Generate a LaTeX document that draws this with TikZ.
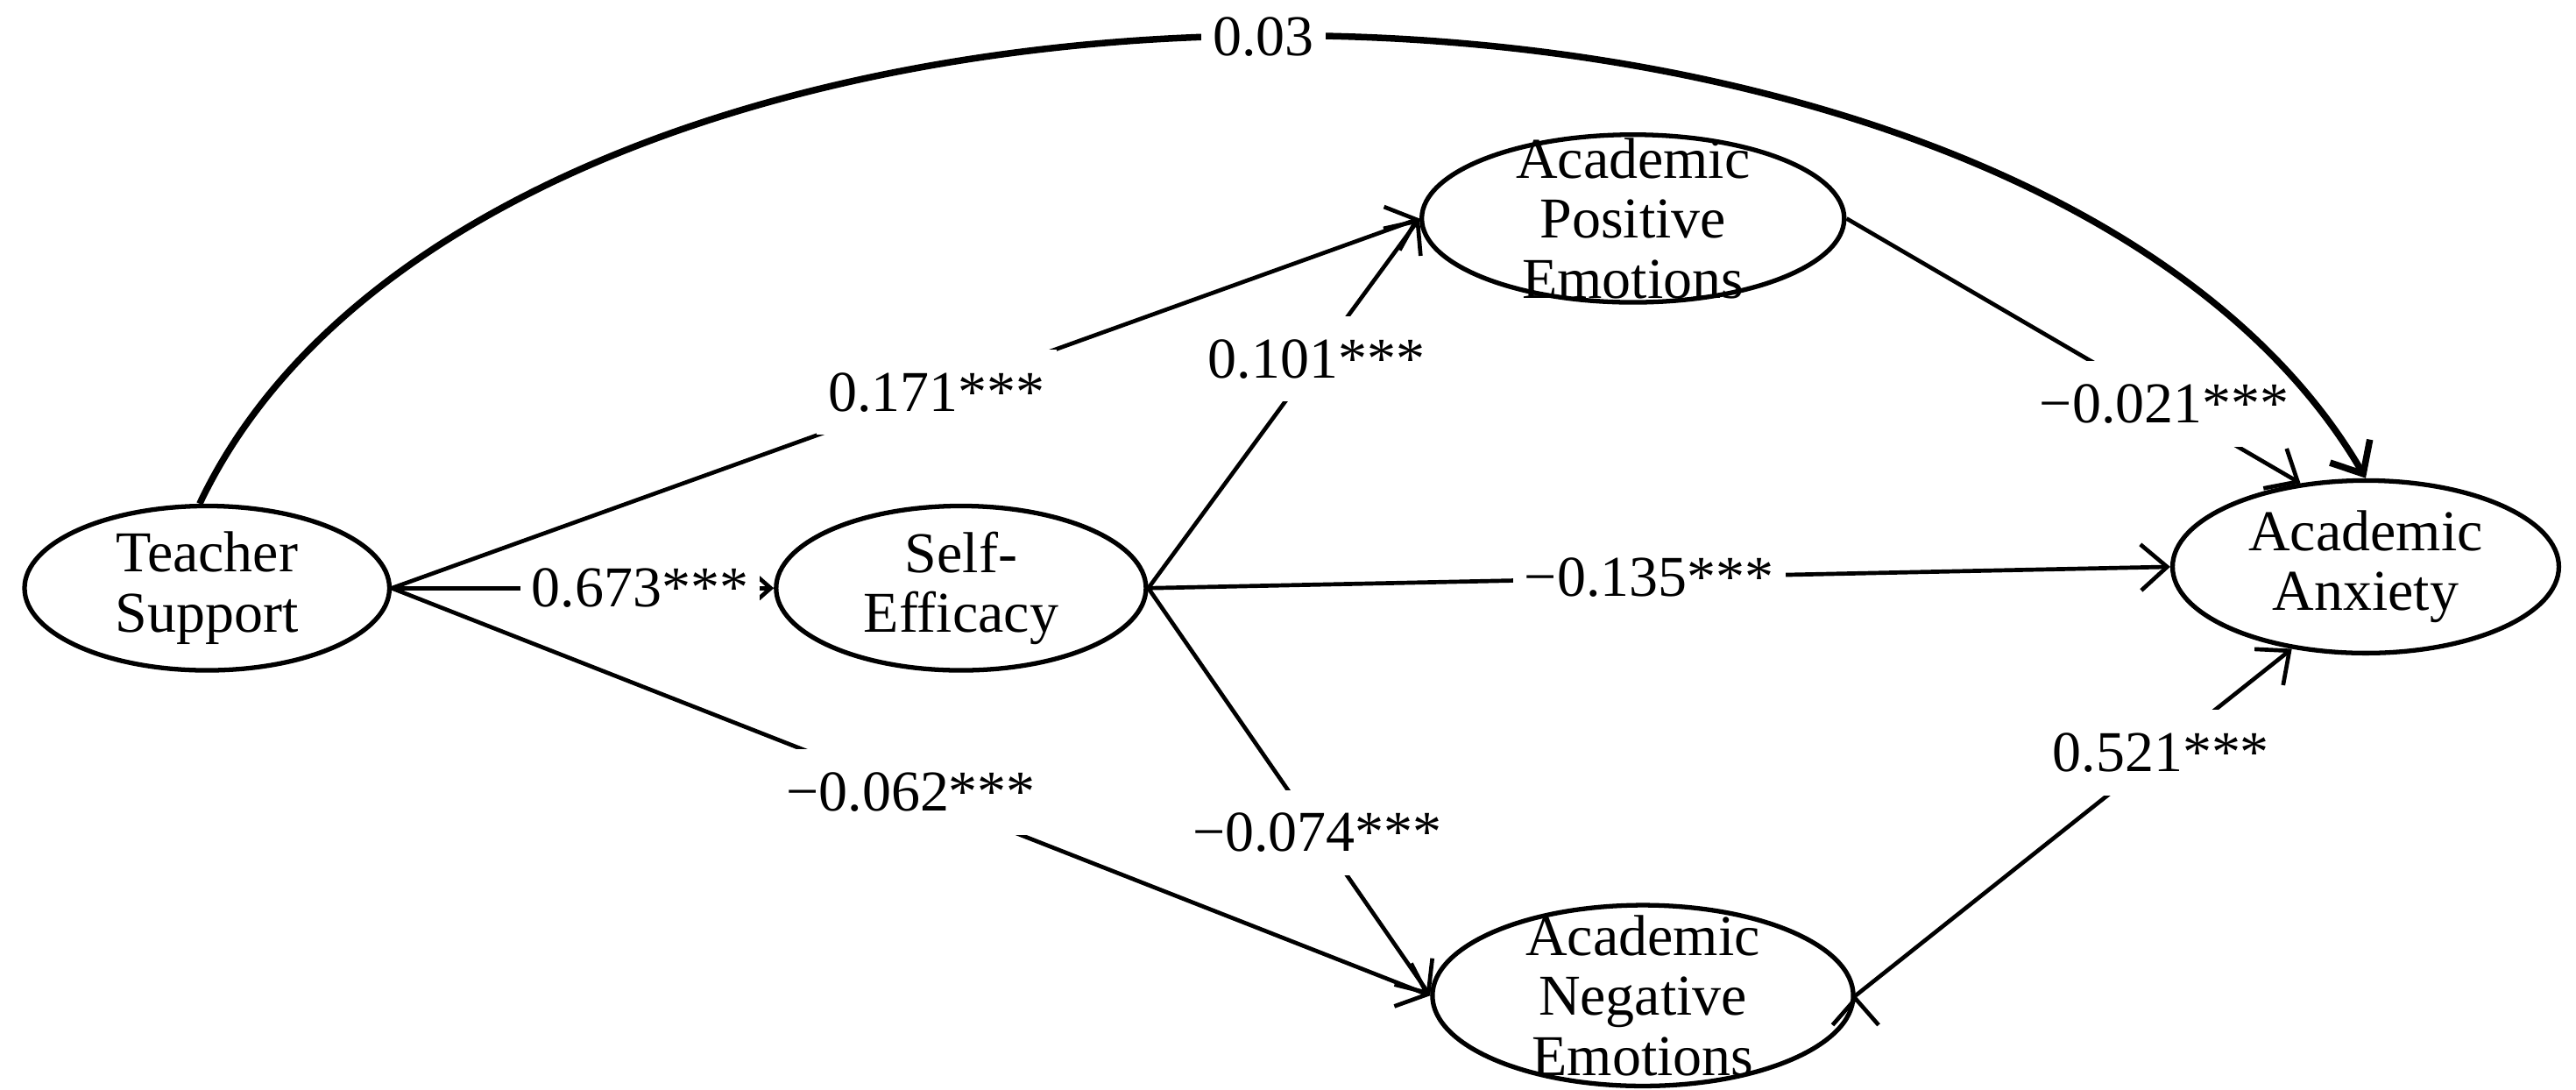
\documentclass[tikz,border=0pt]{standalone}
\usepackage{fontspec}
\setmainfont{Liberation Serif}
\usetikzlibrary{arrows.meta,shapes.geometric}
\begin{document}
\begin{tikzpicture}[x=0.01cm,y=-0.01cm]
    \tikzstyle{latent} = [shape=ellipse, draw, thick, align=center, font=\fontsize{10}{10.4}\selectfont, inner xsep=0pt, inner ysep=-1mm];
    \tikzstyle{path} = [-{Straight Barb[length=1.6mm,width=2.8mm]}, line width=0.25mm];
    \tikzstyle{coef} = [fill=white, inner xsep=2pt, inner ysep=4pt, font=\fontsize{10}{11}\selectfont];
    \useasboundingbox (0,0) rectangle (1568,663);

    \node[latent, minimum width=2.22cm, minimum height=1.0cm](TS) at (126,358) {Teacher\\Support};
    \node[latent, minimum width=2.25cm, minimum height=1.0cm](SE) at (585,358) {Self-\\Efficacy};
    \node[latent, minimum width=2.57cm, minimum height=1.02cm, inner ysep=-3.6mm](APE) at (994,133) {Academic\\Positive\\Emotions};
    \node[latent, minimum width=2.56cm, minimum height=1.1cm, inner ysep=-3.6mm](ANE) at (1000,606) {Academic\\Negative\\Emotions};
    \node[latent, minimum width=2.35cm, minimum height=1.05cm](AA) at (1440,345) {Academic\\Anxiety};

    \draw[path]
        (TS.east) edge node[coef, pos=0.53]{0.171***} (APE.west)
        (TS.east) edge node[coef, pos=0.65]{0.673***} (SE.west)
        (TS.east) edge node[coef, pos=0.5]{−0.062***} (ANE.west)
        (SE.east) edge node[coef, pos=0.62]{0.101***} (APE.west)
        (SE.east) edge node[coef, pos=0.49]{−0.135***} (AA.west)
        (SE.east) edge node[coef, pos=0.6]{−0.074***} (ANE.west)
        (APE.east) edge node[coef, pos=0.7]{−0.021***} (AA.128)
        (ANE.east) edge node[coef, pos=0.7]{0.521***} (AA.228)
    ;
    \draw[path, line width=0.4mm] (TS.95) .. controls (300,-70) and (1230,-70) .. node[coef, pos=0.5]{0.03} (AA.north);
\end{tikzpicture}
\end{document}
